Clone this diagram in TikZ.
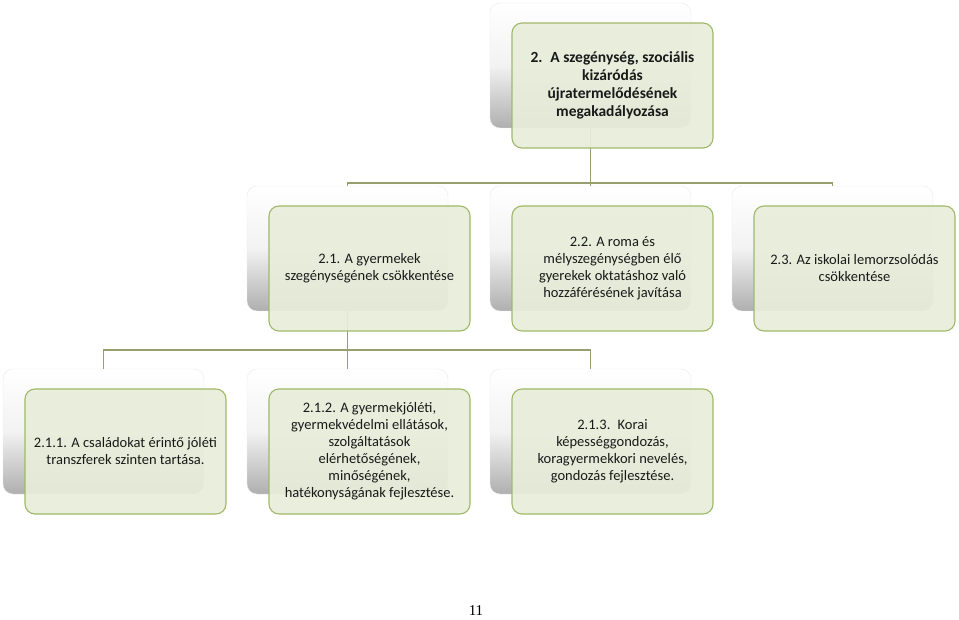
\documentclass[tikz,border=0pt]{standalone}
\usepackage{fontspec}
\setmainfont{Carlito}
\newfontfamily\pagefont{Liberation Serif}
\definecolor{frontfill}{RGB}{232,238,218}
\definecolor{frontline}{RGB}{160,185,105}
\definecolor{connline}{RGB}{150,160,110}
\definecolor{backbot}{RGB}{175,175,175}
\begin{document}
\begin{tikzpicture}[x=1pt,y=-1pt,
 backbox/.style={rounded corners=10pt, minimum width=201pt, minimum height=125pt, top color=white, bottom color=backbot, middle color=black!5, draw=black!8, inner sep=0pt},
 frontbox/.style={rounded corners=10pt, minimum width=201pt, minimum height=125pt, fill=frontfill, fill opacity=0.92, text opacity=1, draw=frontline, line width=1.1pt, align=center, font=\fontsize{14.5}{17}\selectfont, text=black!90, inner sep=2pt},
 conn/.style={draw=connline, line width=1.1pt}]
\fill[white] (0,0) rectangle (959,620);
\useasboundingbox (0,0) rectangle (959,620);

% back boxes
\node[backbox] (b0) at (590.5,65.5) {};
\node[backbox] (b1) at (347.5,248.5) {};
\node[backbox] (b2) at (590.5,248.5) {};
\node[backbox] (b3) at (832.5,248.5) {};
\node[backbox] (b11) at (103.5,431.5) {};
\node[backbox] (b12) at (347.5,431.5) {};
\node[backbox] (b13) at (590.5,431.5) {};

% connectors
\coordinate (h0) at (0,183);
\coordinate (h1) at (0,350);
\draw[conn] (b0.south) -- (b0.south |- h0) -| (b1.north);
\draw[conn] (b0.south |- h0) -- (b2.north);
\draw[conn] (b0.south |- h0) -| (b3.north);
\draw[conn] (b1.south) -- (b1.south |- h1) -| (b11.north);
\draw[conn] (b1.south |- h1) -- (b12.north);
\draw[conn] (b1.south |- h1) -| (b13.north);

% front boxes
\node[frontbox, font=\fontsize{15.5}{18}\selectfont\bfseries] (f0) at (612.5,85.5) {2.\enspace A szegénység, szociális\\kizáródás\\újratermelődésének\\megakadályozása};
\node[frontbox] (f1) at (369.5,268.5) {2.1. A gyermekek\\szegénységének csökkentése};
\node[frontbox] (f2) at (612.5,268.5) {2.2. A roma és\\mélyszegénységben élő\\gyerekek oktatáshoz való\\hozzáférésének javítása};
\node[frontbox] (f3) at (854.5,268.5) {2.3. Az iskolai lemorzsolódás\\csökkentése};
\node[frontbox] (f11) at (125.5,451.5) {2.1.1. A családokat érintő jóléti\\transzferek szinten tartása.};
\node[frontbox] (f12) at (369.5,451.5) {2.1.2. A gyermekjóléti,\\gyermekvédelmi ellátások,\\szolgáltatások\\elérhetőségének,\\minőségének,\\hatékonyságának fejlesztése.};
\node[frontbox] (f13) at (612.5,451.5) {2.1.3.\enspace Korai\\képességgondozás,\\koragyermekkori nevelés,\\gondozás fejlesztése.};

\node[font=\pagefont\fontsize{15}{17}\selectfont] (pg) at (476,611) {11};
\end{tikzpicture}
\end{document}
